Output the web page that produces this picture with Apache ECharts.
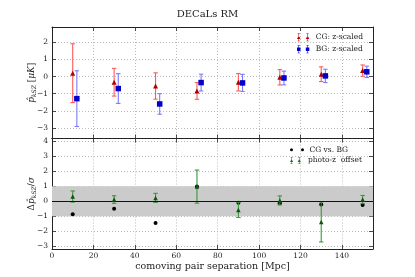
<!DOCTYPE html>
<html>
<head>
<meta charset="utf-8">
<script src="https://cdn.jsdelivr.net/npm/echarts@6/dist/echarts.min.js"></script>
<style>html,body{margin:0;padding:0;background:#fff}#c{width:415px;height:277px}</style>
</head>
<body>
<div id="c"></div>
<script>
// ---- data ----
const sep = [10, 30, 50, 70, 90, 110, 130, 150];
const cgVal = [0.2, -0.33, -0.55, -0.84, -0.33, -0.04, 0.14, 0.35];
const cgErr = [1.72, 0.81, 0.77, 0.49, 0.51, 0.45, 0.43, 0.33];
const bgVal = [-1.29, -0.7, -1.6, -0.35, -0.37, -0.08, 0.04, 0.28];
const bgErr = [1.63, 0.87, 0.6, 0.49, 0.5, 0.4, 0.39, 0.33];
const diffVal = [-0.87, -0.51, -1.45, 0.97, -0.11, -0.13, -0.22, -0.26];
const pzVal = [0.31, 0.11, 0.22, 0.97, -0.58, 0.05, -1.38, 0.11];
const pzErr = [0.37, 0.25, 0.3, 1.1, 0.5, 0.3, 1.33, 0.27];
const xTicks = [0, 20, 40, 60, 80, 100, 120, 140];
const yTicksTop = [-3, -2, -1, 0, 1, 2];
const yTicksBot = [-3, -2, -1, 0, 1, 2, 3, 4];
const bgShift = 2;

const FONT = 'DejaVu Serif';
const chart = echarts.init(document.getElementById('c'), null, {renderer: 'canvas'});

function errRender(color) {
  return function (params, api) {
    const x = api.value(0), y = api.value(1), e = api.value(2);
    const t = api.coord([x, y + e]), b = api.coord([x, y - e]);
    const cw = 2.2;
    const st = {stroke: color, lineWidth: 1.1};
    return {type: 'group', children: [
      {type: 'line', shape: {x1: t[0], y1: t[1], x2: b[0], y2: b[1]}, style: st},
      {type: 'line', shape: {x1: t[0] - cw, y1: t[1], x2: t[0] + cw, y2: t[1]}, style: st},
      {type: 'line', shape: {x1: b[0] - cw, y1: b[1], x2: b[0] + cw, y2: b[1]}, style: st}
    ]};
  };
}
const minus = v => String(v).replace('-', '\u2212');

const axisLine = {show: true, onZero: false, lineStyle: {color: '#222', width: 1}};
const split = {show: true, lineStyle: {color: '#aaa', type: [1, 2], width: 0.8}};
const lab = {fontFamily: FONT, fontSize: 7.5, color: '#222'};
const mkTick = vals => ({show: true, inside: true, length: 4, customValues: vals, lineStyle: {color: '#222', width: 0.8}});

function xAx(grid, pos, showLabel, name) {
  return {type: 'value', gridIndex: grid, position: pos, min: 0, max: 155,
    axisLine, axisTick: mkTick(xTicks), splitLine: pos === 'bottom' ? split : {show: false},
    axisLabel: Object.assign({show: showLabel, margin: 3, customValues: xTicks, formatter: minus}, lab),
    name: name || '', nameLocation: 'middle', nameGap: 13, nameMoveOverlap: false,
    nameTextStyle: {fontFamily: FONT, fontSize: 9.5, color: '#222'}};
}
function yAx(grid, pos, mn, mx, ticks, showLabel, name) {
  return {type: 'value', gridIndex: grid, position: pos, min: mn, max: mx,
    axisLine, axisTick: mkTick(ticks), splitLine: pos === 'left' ? split : {show: false},
    axisLabel: Object.assign({show: showLabel, margin: 4, customValues: ticks, formatter: minus}, lab),
    name: name || '', nameLocation: 'middle', nameGap: 15, nameRotate: 90, nameMoveOverlap: false,
    nameTextStyle: {fontFamily: FONT, fontSize: 9, color: '#222',
      rich: {m: {fontFamily: FONT, fontStyle: 'italic', fontSize: 9, color: '#222'},
             s: {fontFamily: FONT, fontStyle: 'italic', fontSize: 6, color: '#222', padding: [5, 0, 0, 0]},
             n: {fontFamily: FONT, fontSize: 9, color: '#222'}}}};
}

function iconPath(kind, bars) {
  let p = '';
  [2, 13].forEach(cx => {
    if (bars) {
      p += `M${cx - 0.35} 0 h0.7 v10 h-0.7 Z `;
      p += `M${cx - 1.4} 0 h2.8 v0.7 h-2.8 Z M${cx - 1.4} 9.3 h2.8 v0.7 h-2.8 Z `;
    }
    if (kind === 'tri') p += `M${cx - 2.2} 7 L${cx} 2.8 L${cx + 2.2} 7 Z `;
    if (kind === 'sq') p += `M${cx - 2.2} 2.8 h4.4 v4.4 h-4.4 Z `;
    if (kind === 'dot') p += `M${cx - 1.5} 5 A1.5 1.5 0 1 0 ${cx + 1.5} 5 A1.5 1.5 0 1 0 ${cx - 1.5} 5 Z `;
  });
  return 'path://' + p;
}
function leg(name, icon, left, top, h, color) {
  return {data: [{name, icon, itemStyle: {color}}], left, top, padding: 0, itemWidth: 15, itemHeight: h,
    selectedMode: false, textStyle: {fontFamily: FONT, fontSize: 7.5, color: '#222', padding: [0, 0, 0, 0]}};
}

const option = {
  animation: false,
  backgroundColor: '#fff',
  title: {text: 'DECaLs RM', left: 'center', top: 4, textStyle: {fontFamily: FONT, fontSize: 10, fontWeight: 'normal', color: '#222'}},
  grid: [
    {left: 52, right: 42, top: 27, height: 111.5},
    {left: 52, right: 42, top: 138.5, height: 110.5}
  ],
  xAxis: [xAx(0, 'bottom', false), xAx(1, 'bottom', true, 'comoving pair separation [Mpc]'), xAx(0, 'top', false), xAx(1, 'top', false)],
  yAxis: [
    yAx(0, 'left', -3.62, 2.9, yTicksTop, true, '{m|p\u0302}{s|kSZ}{n| [}{m|\u03bcK}{n|]}'),
    yAx(1, 'left', -3.18, 4.17, yTicksBot, true, '{n|\u0394}{m|p\u0302}{s|kSZ}{n|/}{m|\u03c3}'),
    yAx(0, 'right', -3.62, 2.9, yTicksTop, false), yAx(1, 'right', -3.18, 4.17, yTicksBot, false)
  ],
  legend: [
    leg('CG: z-scaled', iconPath('tri', true), 297, 33.3, 8, '#c00000'),
    leg('BG: z-scaled', iconPath('sq', true), 297, 45.3, 8, '#0000d0'),
    leg('CG vs. BG', iconPath('dot', false), 290, 145.8, 3, '#000'),
    leg('photo-z  offset', iconPath('tri', true), 290, 156.5, 7, '#1e6e1e')
  ],
  series: [
    {type: 'custom', name: 'cgErr', xAxisIndex: 0, yAxisIndex: 0, renderItem: errRender('#ff5a5a'),
      data: sep.map((s, i) => [s, cgVal[i], cgErr[i]]), encode: {x: 0, y: 1}, z: 2},
    {type: 'scatter', name: 'CG: z-scaled', xAxisIndex: 0, yAxisIndex: 0, symbol: 'triangle', symbolSize: 5,
      itemStyle: {color: '#b00000', opacity: 1}, data: sep.map((s, i) => [s, cgVal[i]]), z: 3},
    {type: 'custom', name: 'bgErr', xAxisIndex: 0, yAxisIndex: 0, renderItem: errRender('#7a7aff'),
      data: sep.map((s, i) => [s + bgShift, bgVal[i], bgErr[i]]), encode: {x: 0, y: 1}, z: 4},
    {type: 'scatter', name: 'BG: z-scaled', xAxisIndex: 0, yAxisIndex: 0, symbol: 'rect', symbolSize: 5.5,
      itemStyle: {color: '#0000c8', opacity: 1}, data: sep.map((s, i) => [s + bgShift, bgVal[i]]), z: 5},
    {type: 'scatter', name: 'CG vs. BG', xAxisIndex: 1, yAxisIndex: 1, symbol: 'circle', symbolSize: 4,
      itemStyle: {color: '#000', opacity: 1}, data: sep.map((s, i) => [s, diffVal[i]]), z: 3,
      markArea: {silent: true, itemStyle: {color: '#cbcbcb'}, data: [[{yAxis: -1}, {yAxis: 1}]]},
      markLine: {silent: true, symbol: 'none', label: {show: false}, lineStyle: {color: '#111', type: 'solid', width: 1.1},
        data: [{yAxis: 0}]}},
    {type: 'custom', name: 'pzErr', xAxisIndex: 1, yAxisIndex: 1, renderItem: errRender('#3c963c'),
      data: sep.map((s, i) => [s, pzVal[i], pzErr[i]]), encode: {x: 0, y: 1}, z: 4},
    {type: 'scatter', name: 'photo-z  offset', xAxisIndex: 1, yAxisIndex: 1, symbol: 'triangle', symbolSize: 4.5,
      itemStyle: {color: '#145214', opacity: 1}, data: sep.map((s, i) => [s, pzVal[i]]), z: 5}
  ]
};
chart.setOption(option);
</script>
</body>
</html>
